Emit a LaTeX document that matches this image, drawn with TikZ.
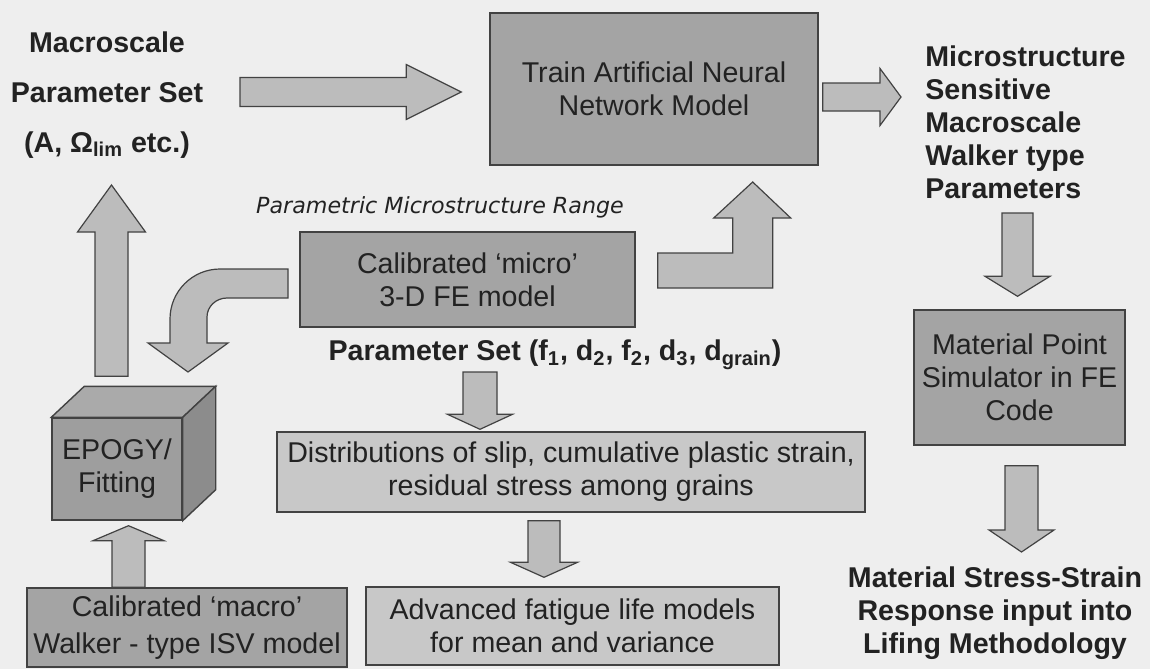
\documentclass[tikz,border=0pt]{standalone}
\usepackage{fontspec}
\setmainfont{Liberation Sans}
\newfontfamily\slantfont{DejaVu Sans}
\usepackage{tikz}
\usetikzlibrary{positioning,calc}

\definecolor{bggray}{RGB}{238,238,238}
\definecolor{boxdark}{RGB}{164,164,164}
\definecolor{boxlight}{RGB}{200,200,200}
\definecolor{arrowfill}{RGB}{188,188,188}
\definecolor{edgegray}{RGB}{66,66,66}
\definecolor{textgray}{RGB}{34,34,34}
\definecolor{cubefront}{RGB}{158,158,158}
\definecolor{cubetop}{RGB}{170,170,170}
\definecolor{cubeside}{RGB}{140,140,140}

% fat block arrow: from, to, half body, half head, head length
\newcommand{\fatarrow}[5]{%
  \filldraw[fat] ($(#1)!#3!90:(#2)$)
    -- ($($(#2)!#5!(#1)$)!#3!90:(#2)$)
    -- ($($(#2)!#5!(#1)$)!#4!90:(#2)$)
    -- (#2)
    -- ($($(#2)!#5!(#1)$)!#4!-90:(#2)$)
    -- ($($(#2)!#5!(#1)$)!#3!-90:(#2)$)
    -- ($(#1)!#3!-90:(#2)$) -- cycle;}

\begin{document}
\begin{tikzpicture}[x=0.5pt, y=-0.5pt,
    box/.style={rectangle, draw=edgegray, line width=0.7pt, fill=boxdark, align=center, inner sep=0pt, text=textgray, font=\fontsize{14.3}{16.5}\selectfont},
    lightbox/.style={box, fill=boxlight},
    lbl/.style={inner sep=0pt, text=textgray, font=\bfseries\fontsize{14.3}{16.5}\selectfont},
    fat/.style={fill=arrowfill, draw=edgegray, line width=0.6pt, line join=miter}
]

% background
\fill[bggray] (0,0) rectangle (1150,669);

% Macroscale parameter set (top left)
\node[lbl, align=center, font=\bfseries\fontsize{14.3}{25}\selectfont] (macrolbl) at (107,95) {Macroscale\\Parameter Set\\(A, Ω\textsubscript{lim} etc.)};

% Neural network (top center)
\node[box, minimum width=164pt, minimum height=76pt] (ann) at (654,89) {Train Artificial Neural\\Network Model};

% Walker type parameters (top right)
\node[lbl, align=left, anchor=west] (microlbl) at (925,122) {Microstructure\\Sensitive\\Macroscale\\Walker type\\Parameters};

% Material point simulator (right)
\node[box, minimum width=105.5pt, minimum height=67.5pt] (mps) at (1019.5,377.5) {Material Point\\Simulator in FE\\Code};

% Response (bottom right)
\node[lbl, align=center] (resp) at (995,613) {Material Stress-Strain\\Response input into\\Lifing Methodology};

% Micro model (center)
\node[inner sep=0pt, text=textgray, font=\slantfont\itshape\fontsize{11.1}{12}\selectfont] (rangelbl) at (440,207) {Parametric Microstructure Range};
\node[box, minimum width=167.5pt, minimum height=47.5pt] (micro) at (467.5,279.5) {Calibrated ‘micro’\\3-D FE model};
\node[lbl] (paramset) at (555,355) {Parameter Set (f\textsubscript{1}, d\textsubscript{2}, f\textsubscript{2}, d\textsubscript{3}, d\textsubscript{grain})};

% Distributions and fatigue models (center bottom)
\node[lightbox, minimum width=294pt, minimum height=40pt] (dist) at (571,472) {Distributions of slip, cumulative plastic strain,\\residual stress among grains};
\node[lightbox, minimum width=206.5pt, minimum height=39pt] (adv) at (572.5,626) {Advanced fatigue life models\\for mean and variance};

% Macro model (bottom left)
\node[box, minimum width=160pt, minimum height=39.5pt] (macro) at (187,627.5) {Calibrated ‘macro’\\[2pt]Walker - type ISV model};

% EPOGY cube (left)
\node[box, fill=cubefront, minimum width=65pt, minimum height=51pt] (epogy) at (117,469) {EPOGY/\\Fitting};
\filldraw[fill=cubetop, draw=edgegray, line width=0.7pt] (epogy.north west) -- ++(33,-31) -- ($(epogy.north east)+(33,-31)$) -- (epogy.north east) -- cycle;
\filldraw[fill=cubeside, draw=edgegray, line width=0.7pt] (epogy.north east) -- ++(33,-31) -- ($(epogy.south east)+(33,-31)$) -- (epogy.south east) -- cycle;

% Straight block arrows
\coordinate (bigS) at (240,92);
\coordinate (bigE) at ($(ann.west)+(-28,3)$);
\fatarrow{bigS}{bigE}{7.25pt}{13.75pt}{27.5pt}
\coordinate (annS) at ($(ann.east)+(4,8)$);
\coordinate (annE) at (901,97);
\fatarrow{annS}{annE}{7pt}{14.25pt}{10.5pt}
\coordinate (wkS) at (1017.5,213);
\coordinate (wkE) at ($(mps.north)+(-2,-13)$);
\fatarrow{wkS}{wkE}{7.75pt}{16.25pt}{10pt}
\coordinate (mpsS) at ($(mps.south)+(2,20)$);
\coordinate (mpsE) at (1021.5,552);
\fatarrow{mpsS}{mpsE}{8.25pt}{16.25pt}{11pt}
\coordinate (fitS) at ($(epogy.north)+(-5.5,-41)$);
\coordinate (fitE) at (111.5,185);
\fatarrow{fitS}{fitE}{8.25pt}{17pt}{23.5pt}
\coordinate (isvS) at ($(macro.north)+(-58.5,0)$);
\coordinate (isvE) at ($(epogy.south)+(11.5,5)$);
\fatarrow{isvS}{isvE}{8.25pt}{17.75pt}{7.5pt}
\coordinate (setS) at (480,372);
\coordinate (setE) at ($(dist.north)+(-91,-2)$);
\fatarrow{setS}{setE}{8.5pt}{16.25pt}{7.5pt}
\coordinate (distS) at ($(dist.south)+(-27,8)$);
\coordinate (distE) at ($(adv.north)+(-28.5,-9)$);
\fatarrow{distS}{distE}{8pt}{16.75pt}{7.5pt}

% Bent arrow up to the network
\filldraw[fat] ($(micro.east)+(22,-26.5)$) -- ++(75,0) -- ++(0,-35) -- ++(-19,0) -- ++(39,-36) -- ++(38,36) -- ++(-18,0) -- ++(0,70) -- ++(-115,0) -- cycle;

% Curved arrow down to the cube
\filldraw[fat] (288,269) -- (220,269) .. controls (192.4,269) and (170,291.4) .. (170,319) -- (170,343) -- (148,343) -- (188,372) -- (228,343) -- (207,343) -- (207,317) .. controls (207,306.5) and (216,298) .. (227,298) -- (288,298) -- cycle;

\end{tikzpicture}
\end{document}
